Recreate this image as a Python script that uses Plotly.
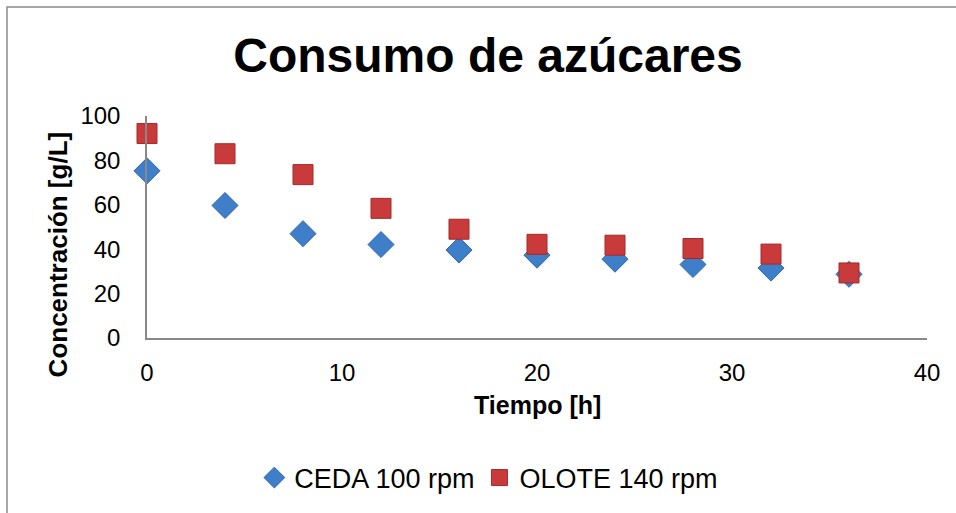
import plotly.graph_objects as go

tiempo = [0, 4, 8, 12, 16, 20, 24, 28, 32, 36]
ceda_100 = [75.3, 59.7, 47.0, 42.1, 39.6, 37.3, 35.5, 33.1, 31.5, 28.7]
olote_140 = [92.1, 83.0, 73.6, 58.4, 49.0, 42.2, 41.8, 40.3, 37.8, 29.3]

W, H = 956, 513
L, R, T, B = 147, 29, 116, 174
pw, ph = W - L - R, H - T - B

def px(x):
    return (x - L) / pw

def py(y):
    return (H - B - y) / ph

font = "Liberation Sans, Arial, sans-serif"

fig = go.Figure()
fig.add_trace(go.Scatter(
    x=tiempo, y=ceda_100, mode="markers", name="CEDA 100 rpm", cliponaxis=False,
    marker=dict(symbol="diamond", size=20, color="#3F7FCA",
                line=dict(color="#2F65A8", width=1))))
fig.add_trace(go.Scatter(
    x=tiempo, y=olote_140, mode="markers", name="OLOTE 140 rpm", cliponaxis=False,
    marker=dict(symbol="square", size=20, color="#C93A3A",
                line=dict(color="#A52A2A", width=1))))

fig.update_layout(
    width=W, height=H,
    margin=dict(l=L, r=R, t=T, b=B),
    paper_bgcolor="white", plot_bgcolor="white",
    font=dict(family=font, size=24, color="black"),
    title=dict(text="<b>Consumo de azúcares</b>", x=488 / W, xanchor="center",
               y=1 - 55 / H, yanchor="middle",
               font=dict(size=48, family=font, color="black")),
    xaxis=dict(range=[0, 40], tickvals=[0, 10, 20, 30, 40], showgrid=False,
               zeroline=False, showline=True, linecolor="#888888", linewidth=1.5,
               ticks="", ticklabelstandoff=12, tickfont=dict(size=24)),
    yaxis=dict(range=[0, 100], tickvals=[0, 20, 40, 60, 80, 100], showgrid=False,
               zeroline=False, showline=True, linecolor="#888888", linewidth=1.5,
               ticks="", ticklabelstandoff=20, tickfont=dict(size=24)),
    showlegend=True,
    legend=dict(orientation="h", x=419 / W, xanchor="center",
                y=py(478), yanchor="middle", font=dict(size=27),
                itemwidth=30, bgcolor="rgba(0,0,0,0)"),
    annotations=[
        dict(text="<b>Concentración [g/L]</b>", xref="paper", yref="paper",
             x=px(58), y=py(255), textangle=-90, showarrow=False,
             xanchor="center", yanchor="middle", font=dict(size=26)),
        dict(text="<b>Tiempo [h]</b>", xref="paper", yref="paper",
             x=px(537), y=py(406), showarrow=False,
             xanchor="center", yanchor="middle", font=dict(size=25)),
    ],
    shapes=[
        dict(type="rect", xref="paper", yref="paper",
             x0=px(7), x1=px(W + 10), y0=py(H + 10), y1=py(6.5),
             line=dict(color="#8A8A8A", width=1.5), fillcolor="rgba(0,0,0,0)",
             layer="below"),
    ],
)

fig.write_html("out.html")
